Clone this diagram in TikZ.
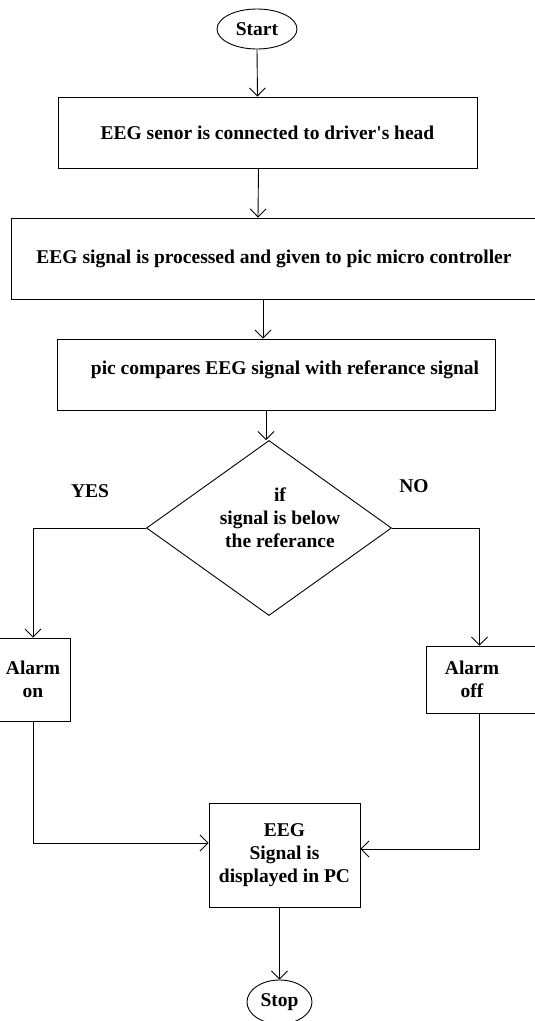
\documentclass[tikz,border=0pt]{standalone}
\usepackage{fontspec}
\setmainfont{Liberation Serif}
\usetikzlibrary{shapes.geometric,arrows.meta}

\tikzset{
    box/.style={draw, rectangle, inner sep=0pt, align=center},
    term/.style={draw, ellipse, inner sep=0pt},
    cond/.style={draw, diamond, inner sep=0pt}
}

\begin{document}
\begin{tikzpicture}[x=1pt, y=-1pt, line width=0.9pt,
        font=\fontsize{19.5}{23}\selectfont\bfseries,
        >={Straight Barb[length=8pt,width=16pt]}]
        \useasboundingbox (0,0) rectangle (535,1021);
        \node [term, minimum width=80pt, minimum height=40pt] (start) at (257,29) {Start};
        \node [box, minimum width=419pt, minimum height=71pt] (sensor) at (267.5,132.5)
            {EEG senor is connected to driver\textquotesingle s head};
        \node [box, minimum width=526pt, minimum height=81pt] (proc) at (274,258.5)
            {EEG signal is processed and given to pic micro controller};
        \node [box, minimum width=438pt, minimum height=71pt,
            label={[xshift=9pt, yshift=4.5pt]center:pic compares EEG signal with referance signal}]
            (cmp) at (276,374.5) {};
        \node [cond, minimum width=245pt, minimum height=175pt,
            label={[align=center, xshift=11pt, yshift=10pt]center:if\\signal is below\\the referance}]
            (ifbelow) at (269,528) {};
        \node (yes) at (90,491) {YES};
        \node (no) at (414,486) {NO};
        \node [box, minimum width=74pt, minimum height=83pt] (alarmon) at (33,679.5) {Alarm\\on};
        \node [box, minimum width=111pt, minimum height=67pt,
            label={[align=center, xshift=-9.5pt]center:Alarm\\off}]
            (alarmoff) at (481.5,679.5) {};
        \node [box, minimum width=151pt, minimum height=104pt] (disp) at (284.5,855)
            {EEG\\Signal is\\displayed in PC};
        \node [term, minimum width=65pt, minimum height=44pt] (stop) at (279.5,1002) {Stop};

        \draw [->] (start.south) -- ([xshift=-10pt]sensor.north);
        \draw [->] ([xshift=-9pt]sensor.south) -- ([xshift=-16pt]proc.north);
        \draw [->] ([xshift=-11pt]proc.south) -- ([xshift=-13pt]cmp.north);
        \draw [->] ([xshift=-10pt]cmp.south) -- ([xshift=-3pt]ifbelow.north);
        \draw [->] (ifbelow.west) -| (alarmon.north);
        \draw [->] (ifbelow.east) -| ([xshift=-2pt]alarmoff.north);
        \draw [->] (alarmon.south) |- ([yshift=12pt]disp.west);
        \draw [->] ([xshift=-2pt]alarmoff.south) |- ([yshift=6pt]disp.east);
        \draw [->] (disp.south -| stop.north) -- (stop.north);
    \end{tikzpicture}
\end{document}
